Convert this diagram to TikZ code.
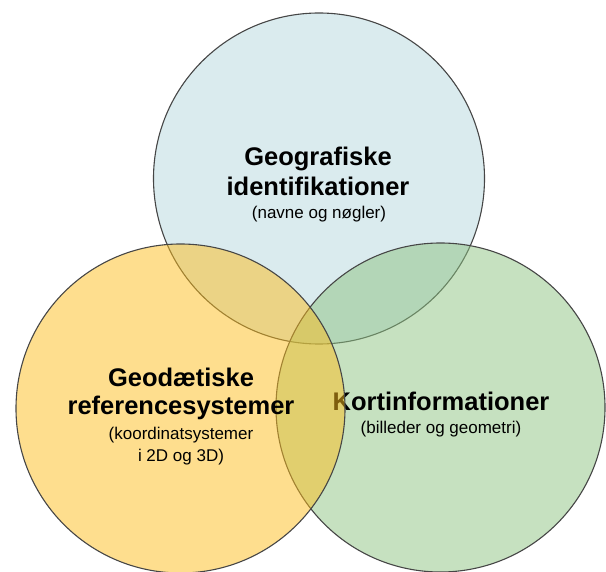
\documentclass[tikz,border=0pt]{standalone}
\usepackage{fontspec}
\setmainfont{Liberation Sans}
\definecolor{cblue}{RGB}{181,215,221}
\definecolor{cgreen}{RGB}{141,195,129}
\definecolor{cyellow}{RGB}{253,189,29}
\definecolor{cline}{RGB}{70,70,70}
\begin{document}
\begin{tikzpicture}[x=1pt,y=-1pt,
  venn/.style={circle, draw=cline, line width=1.1pt, fill opacity=0.5, inner sep=0pt},
  big/.style={font=\fontsize{25.5}{30}\selectfont\bfseries, inner sep=0pt, anchor=base},
  small/.style={font=\fontsize{17}{20}\selectfont, inner sep=0pt, anchor=base}]
\useasboundingbox (0,0) rectangle (606,572);
% top circle
\node[venn, fill=cblue, minimum size=331pt] (top) at (319,178.5) {};
\node[big] (t1) at (318,166) {Geografiske};
\node[big] (t2) at (318,196) {identifikationer};
\node[small] (t3) at (319,219) {(navne og nøgler)};
% right circle
\node[venn, fill=cgreen, minimum size=329pt] (right) at (440.5,407.5) {};
\node[big] (r1) at (441,411) {Kortinformationer};
\node[small] (r2) at (441,434) {(billeder og geometri)};
% left circle
\node[venn, fill=cyellow, minimum size=329pt] (left) at (180.5,408.5) {};
\node[big] (l1) at (181,387) {Geodætiske};
\node[big] (l2) at (181,415) {referencesystemer};
\node[small] (l3) at (181,439) {(koordinatsystemer};
\node[small] (l4) at (181,462) {i 2D og 3D)};
\end{tikzpicture}
\end{document}
